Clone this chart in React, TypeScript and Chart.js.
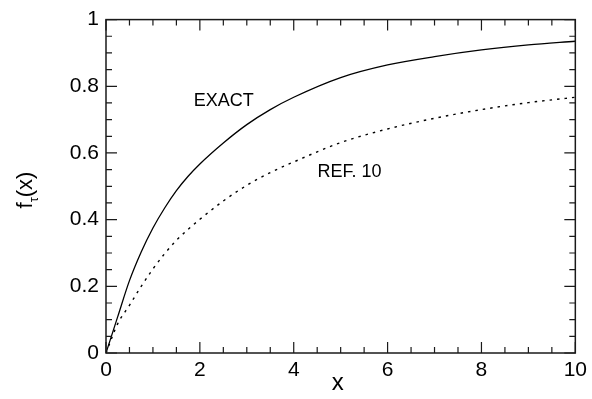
import React, { useEffect, useRef } from "react";
import { Chart, registerables } from "chart.js";

Chart.register(...registerables);

const xValues = [0, 0.25, 0.5, 0.75, 1, 1.25, 1.5, 1.75, 2, 2.5, 3, 3.5, 4, 5, 6, 7, 8, 9, 10];
const exactValues = [0, 0.109, 0.217, 0.303, 0.375, 0.435, 0.487, 0.53, 0.567, 0.63, 0.685, 0.73, 0.767, 0.826, 0.864, 0.889, 0.909, 0.924, 0.935];
const ref10Values = [0, 0.088, 0.143, 0.2, 0.252, 0.298, 0.338, 0.371, 0.401, 0.456, 0.503, 0.541, 0.573, 0.631, 0.672, 0.704, 0.73, 0.751, 0.767];
const xTickLabels = ["0", "2", "4", "6", "8", "10"];
const yTickLabels = ["0", "0.2", "0.4", "0.6", "0.8", "1"];
const seriesNames = ["EXACT", "REF. 10"];
const labelAnchors = [
  { x: 2.51, y: 0.756 },
  { x: 5.19, y: 0.542 },
];

const FONT = "'Liberation Sans', Arial, Helvetica, sans-serif";
const INK = "#1a1a1a";

const framePlugin = {
  id: "framePlugin",
  afterDraw(chart: any) {
    const { ctx, chartArea, scales } = chart;
    const xs = scales.x;
    const ys = scales.y;
    const { left, right, top, bottom } = chartArea;
    ctx.save();
    ctx.strokeStyle = INK;
    ctx.lineWidth = 1.5;
    ctx.strokeRect(left, top, right - left, bottom - top);

    ctx.lineWidth = 1.2;
    ctx.beginPath();
    for (let i = 0; i <= 20; i++) {
      const v = i * 0.5;
      const px = xs.getPixelForValue(v);
      const len = i % 4 === 0 ? 11 : 6;
      ctx.moveTo(px, bottom);
      ctx.lineTo(px, bottom - len);
      ctx.moveTo(px, top);
      ctx.lineTo(px, top + len);
    }
    for (let i = 0; i <= 20; i++) {
      const v = i * 0.05;
      const py = ys.getPixelForValue(v);
      const len = i % 4 === 0 ? 11 : 6;
      ctx.moveTo(left, py);
      ctx.lineTo(left + len, py);
      ctx.moveTo(right, py);
      ctx.lineTo(right - len, py);
    }
    ctx.stroke();

    // curve labels
    ctx.fillStyle = "#000";
    ctx.font = `18px ${FONT}`;
    ctx.textAlign = "center";
    ctx.textBaseline = "middle";
    labelAnchors.forEach((a, i) => {
      ctx.fillText(seriesNames[i], xs.getPixelForValue(a.x), ys.getPixelForValue(a.y));
    });

    // x title
    ctx.font = `24px ${FONT}`;
    ctx.textBaseline = "alphabetic";
    ctx.fillText("x", (left + right) / 2 - 3, 390);

    // y title f_τ(x)
    ctx.translate(32, 190);
    ctx.rotate(-Math.PI / 2);
    const big = `22px ${FONT}`;
    const small = `13px ${FONT}`;
    ctx.font = big;
    const wf = ctx.measureText("f").width;
    const wp = ctx.measureText("(x)").width;
    ctx.font = small;
    const wt = ctx.measureText("τ").width;
    const total = wf + wt + wp;
    let cx = -total / 2;
    ctx.textAlign = "left";
    ctx.font = big;
    ctx.fillText("f", cx, 0);
    cx += wf;
    ctx.font = small;
    ctx.fillText("τ", cx, 6);
    cx += wt;
    ctx.font = big;
    ctx.fillText("(x)", cx, 0);
    ctx.restore();
  },
};

export default function App() {
  const ref = useRef<HTMLCanvasElement | null>(null);
  useEffect(() => {
    document.body.style.margin = "0";
    if (!ref.current) return;
    const chart = new Chart(ref.current, {
      type: "line",
      data: {
        datasets: [
          {
            label: seriesNames[0],
            data: xValues.map((x, i) => ({ x, y: exactValues[i] })),
            borderColor: "#000",
            borderWidth: 1.3,
            pointRadius: 0,
            cubicInterpolationMode: "monotone",
            fill: false,
          },
          {
            label: seriesNames[1],
            data: xValues.map((x, i) => ({ x, y: ref10Values[i] })),
            borderColor: "#000",
            borderWidth: 1.4,
            borderDash: [2.5, 5],
            pointRadius: 0,
            cubicInterpolationMode: "monotone",
            fill: false,
          },
        ],
      },
      options: {
        responsive: false,
        animation: false,
        layout: { padding: { left: 0, right: 15, top: 15, bottom: 0 } },
        plugins: { legend: { display: false }, tooltip: { enabled: false }, title: { display: false } },
        scales: {
          x: {
            type: "linear",
            min: 0,
            max: 10,
            grid: { display: false, drawTicks: false },
            border: { display: false },
            ticks: {
              stepSize: 0.5,
              autoSkip: false,
              maxRotation: 0,
              padding: 5,
              color: "#000",
              font: { family: FONT, size: 21 },
              callback: (v: any) => {
                const n = Number(v);
                const k = Math.round(n / 2);
                return Math.abs(n - k * 2) < 1e-6 ? xTickLabels[k] : "";
              },
            },
            afterFit: (s: any) => {
              s.height = 46;
            },
          },
          y: {
            type: "linear",
            min: 0,
            max: 1,
            grid: { display: false, drawTicks: false },
            border: { display: false },
            ticks: {
              stepSize: 0.05,
              autoSkip: false,
              padding: 7,
              color: "#000",
              font: { family: FONT, size: 21 },
              callback: (v: any) => {
                const n = Number(v);
                const k = Math.round(n * 5);
                return Math.abs(n - k / 5) < 1e-6 ? yTickLabels[k] : "";
              },
            },
            afterFit: (s: any) => {
              s.width = 106;
            },
          },
        },
      },
      plugins: [framePlugin],
    } as any);
    return () => chart.destroy();
  }, []);
  return <canvas ref={ref} width={592} height={399} style={{ display: "block" }} />;
}
